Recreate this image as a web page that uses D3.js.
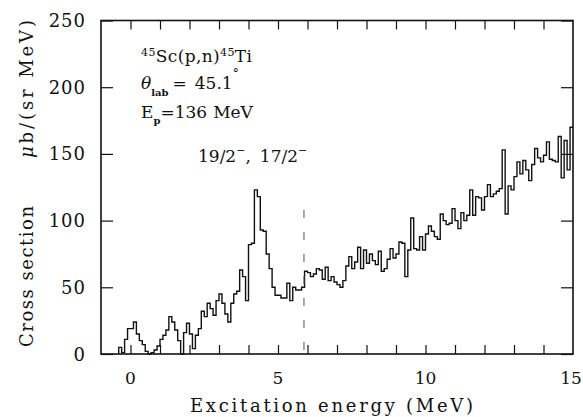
<!DOCTYPE html>
<html>
<head>
<meta charset="utf-8">
<script src="https://cdn.jsdelivr.net/npm/d3@7"></script>
<style>
  body { margin: 0; background: #fff; }
  svg text { font-family: "DejaVu Serif", serif; fill: #111; }
</style>
</head>
<body>
<svg id="chart" width="583" height="417"></svg>
<script>
'use strict';

// lower edge of each 0.1 MeV bin (MeV)
var binLow = [
  -0.4, -0.3, -0.2, -0.1, 0.0, 0.1, 0.2, 0.3, 0.4, 0.5, 0.6, 0.7, 0.8, 0.9,
  1.0, 1.1, 1.2, 1.3, 1.4, 1.5, 1.6, 1.7, 1.8, 1.9, 2.0, 2.1, 2.2, 2.3, 2.4, 2.5,
  2.6, 2.7, 2.8, 2.9, 3.0, 3.1, 3.2, 3.3, 3.4, 3.5, 3.6, 3.7, 3.8, 3.9, 4.0, 4.1,
  4.2, 4.3, 4.4, 4.5, 4.6, 4.7, 4.8, 4.9, 5.0, 5.1, 5.2, 5.3, 5.4, 5.5, 5.6, 5.7,
  5.8, 5.9, 6.0, 6.1, 6.2, 6.3, 6.4, 6.5, 6.6, 6.7, 6.8, 6.9, 7.0, 7.1, 7.2, 7.3,
  7.4, 7.5, 7.6, 7.7, 7.8, 7.9, 8.0, 8.1, 8.2, 8.3, 8.4, 8.5, 8.6, 8.7, 8.8, 8.9,
  9.0, 9.1, 9.2, 9.3, 9.4, 9.5, 9.6, 9.7, 9.8, 9.9, 10.0, 10.1, 10.2, 10.3, 10.4,
  10.5, 10.6, 10.7, 10.8, 10.9, 11.0, 11.1, 11.2, 11.3, 11.4, 11.5, 11.6, 11.7,
  11.8, 11.9, 12.0, 12.1, 12.2, 12.3, 12.4, 12.5, 12.6, 12.7, 12.8, 12.9, 13.0,
  13.1, 13.2, 13.3, 13.4, 13.5, 13.6, 13.7, 13.8, 13.9, 14.0, 14.1, 14.2, 14.3,
  14.4, 14.5, 14.6, 14.7, 14.8, 14.9
];
var binWidth = 0.1;

// cross section, microbarn / (sr MeV)
var crossSection = [
  5, 1, 11, 19, 19, 24, 15, 10, 7, 2, 0, 1, 3, 6,
  11, 14, 18, 28, 24, 18, 10, 0, 16, 23, 15, 4, 14, 19, 32, 28,
  38, 34, 29, 40, 45, 38, 30, 24, 38, 45, 47, 63, 58, 40, 82, 83,
  123, 118, 93, 92, 75, 64, 50, 44, 44, 42, 42, 53, 40, 50, 48, 48,
  50, 62, 61, 58, 60, 64, 63, 56, 65, 55, 58, 54, 52, 50, 55, 66,
  73, 64, 69, 80, 64, 78, 68, 75, 70, 67, 77, 62, 64, 71, 79, 72,
  75, 84, 83, 58, 78, 102, 79, 78, 88, 78, 90, 96, 92, 88, 86,
  105, 100, 97, 98, 109, 100, 94, 106, 100, 104, 123, 104, 118,
  117, 108, 118, 127, 118, 120, 122, 124, 153, 105, 126, 123, 133,
  144, 135, 145, 138, 130, 142, 154, 147, 144, 149, 159, 146, 145,
  144, 163, 132, 160, 138, 170
];

var xTicks = [0, 1, 2, 3, 4, 5, 6, 7, 8, 9, 10, 11, 12, 13, 14];
var xTickLabels = [0, 5, 10, 15];
var yTicks = [0, 50, 100, 150, 200, 250];

var markerEnergy = 5.88;
var markerTop = 108;

var svg = d3.select('#chart');
var margin = { left: 101, right: 10, top: 20.5, bottom: 63 };
var W = 583, H = 417;

var x = d3.scaleLinear().domain([-1, 15]).range([margin.left, W - margin.right]);
var y = d3.scaleLinear().domain([0, 250]).range([H - margin.bottom, margin.top]);

svg.append('rect').attr('width', W).attr('height', H).attr('fill', '#fff');

// ticks (inward, all four sides)
function tickStyle(g) {
  g.select('.domain').remove();
  g.selectAll('line').attr('stroke', '#111').attr('stroke-width', 1.2);
}
svg.append('g').attr('transform', `translate(0,${y(0)})`)
  .call(d3.axisBottom(x).tickValues(xTicks).tickSize(-9).tickFormat(''))
  .call(tickStyle);
svg.append('g').attr('transform', `translate(0,${y(250)})`)
  .call(d3.axisTop(x).tickValues(xTicks).tickSize(-9).tickFormat(''))
  .call(tickStyle);
svg.append('g').attr('transform', `translate(${x(-1)},0)`)
  .call(d3.axisLeft(y).tickValues(yTicks).tickSize(-12).tickFormat(''))
  .call(tickStyle);
svg.append('g').attr('transform', `translate(${x(15)},0)`)
  .call(d3.axisRight(y).tickValues(yTicks).tickSize(-12).tickFormat(''))
  .call(tickStyle);

// frame
svg.append('rect')
  .attr('x', x(-1)).attr('y', y(250))
  .attr('width', x(15) - x(-1)).attr('height', y(0) - y(250))
  .attr('fill', 'none').attr('stroke', '#111').attr('stroke-width', 1.6);

// tick labels
svg.append('g').selectAll('text').data(xTickLabels).join('text')
  .attr('x', d => Math.min(x(d), W - 12)).attr('y', y(0) + 30)
  .attr('text-anchor', 'middle').attr('font-size', 17)
  .text(d => d);
svg.append('g').selectAll('text').data(yTicks).join('text')
  .attr('x', x(-1) - 15).attr('y', d => y(d) + 6.5)
  .attr('text-anchor', 'end').attr('font-size', 18)
  .attr('letter-spacing', 1)
  .text(d => d);

// axis titles
svg.append('text')
  .attr('x', 190).attr('y', 412)
  .attr('font-size', 18)
  .attr('textLength', 283).attr('lengthAdjust', 'spacing')
  .text('Excitation energy (MeV)');
svg.append('text')
  .attr('transform', 'translate(33,347) rotate(-90)')
  .attr('font-size', 18)
  .attr('textLength', 141).attr('lengthAdjust', 'spacing')
  .text('Cross section');
var ut = svg.append('text')
  .attr('transform', 'translate(33,158) rotate(-90)')
  .attr('font-size', 18)
  .attr('textLength', 138).attr('lengthAdjust', 'spacing');
ut.append('tspan').attr('font-style', 'italic').text('\u03bc');
ut.append('tspan').text('b/(sr MeV)');

// histogram
var pts = [[binLow[0], 0]];
binLow.forEach(function (e, i) { pts.push([e, crossSection[i]]); });
pts.push([binLow[binLow.length - 1] + binWidth, crossSection[crossSection.length - 1]]);

svg.append('path')
  .datum(pts)
  .attr('fill', 'none').attr('stroke', '#111').attr('stroke-width', 1.4)
  .attr('d', d3.line().x(d => x(d[0])).y(d => y(d[1])).curve(d3.curveStepAfter));

// dashed marker
svg.append('line')
  .attr('x1', x(markerEnergy)).attr('x2', x(markerEnergy))
  .attr('y1', y(markerTop)).attr('y2', y(0))
  .attr('stroke', '#555').attr('stroke-width', 1)
  .attr('stroke-dasharray', '8,14');

// annotations
var a1 = svg.append('text').attr('x', 141).attr('y', 62).attr('font-size', 17)
  .attr('textLength', 111).attr('lengthAdjust', 'spacing');
a1.append('tspan').attr('font-size', 11).attr('dy', -6).text('45');
a1.append('tspan').attr('dy', 6).text('Sc(p,n)');
a1.append('tspan').attr('font-size', 11).attr('dy', -6).text('45');
a1.append('tspan').attr('dy', 6).text('Ti');

var a2 = svg.append('text').attr('x', 141).attr('y', 89).attr('font-size', 17);
a2.append('tspan').attr('font-style', 'italic').text('\u03b8');
a2.append('tspan').attr('font-size', 10).attr('font-weight', 'bold').attr('dy', 7).text('lab');
a2.append('tspan').attr('dy', -7).attr('dx', 4).text('=');
a2.append('tspan').attr('dx', 8).text('45.1');
a2.append('tspan').attr('font-size', 12).attr('dy', -11).text('\u00b0');

var a3 = svg.append('text').attr('x', 141).attr('y', 118).attr('font-size', 17);
a3.append('tspan').text('E');
a3.append('tspan').attr('font-size', 10).attr('font-weight', 'bold').attr('dy', 6).text('p');
a3.append('tspan').attr('dy', -6).text('=136');
a3.append('tspan').attr('dx', 6).text('MeV');

var a4 = svg.append('text').attr('x', 198).attr('y', 162).attr('font-size', 17);
a4.append('tspan').text('19/2');
a4.append('tspan').attr('font-size', 11).attr('dy', -8).text('\u2212');
a4.append('tspan').attr('dy', 8).text(',');
a4.append('tspan').attr('dx', 9).text('17/2');
a4.append('tspan').attr('font-size', 11).attr('dy', -8).text('\u2212');
</script>
</body>
</html>
